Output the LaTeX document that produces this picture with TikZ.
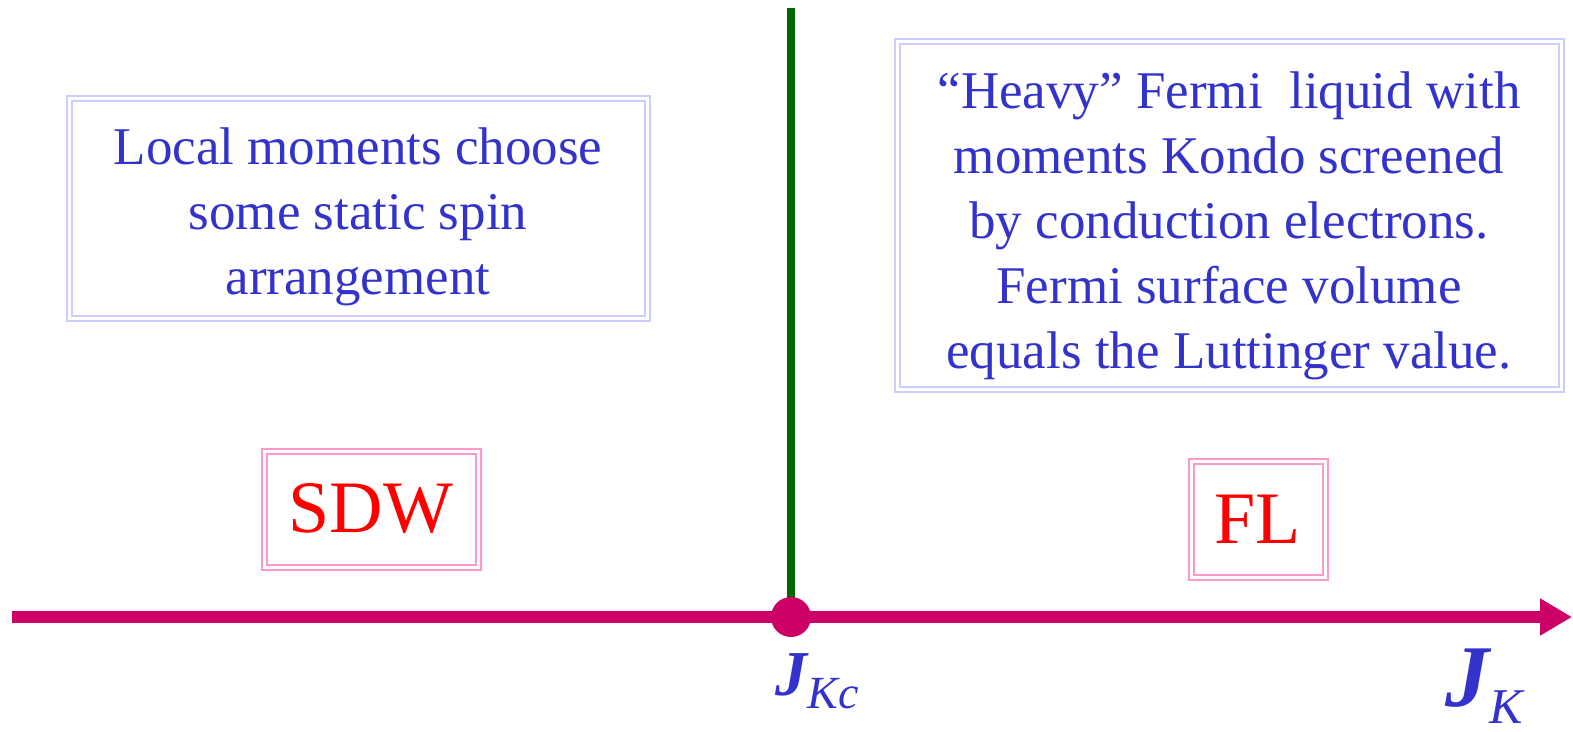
\documentclass[tikz,border=0pt]{standalone}
\usepackage{fontspec}
\setmainfont{Liberation Serif}
\usetikzlibrary{arrows.meta}
\definecolor{axisCol}{RGB}{204,0,102}
\definecolor{boundCol}{RGB}{0,102,0}
\definecolor{textCol}{RGB}{51,51,204}
\definecolor{infoCol}{RGB}{204,204,255}
\definecolor{phaseCol}{RGB}{255,153,204}
\newcommand\axisY{617}
\newcommand\critX{791}
\newcommand\boxText{\fontsize{26.5}{32.5}\selectfont}
\newcommand\phaseText{\fontsize{37}{40}\selectfont}
% coupling label: big bold J with a lowered italic subscript
\newcommand{\coupling}[4]{{\fontsize{#1}{#1}\selectfont\bfseries\itshape J}\raisebox{-#4}{\fontsize{#2}{#2}\selectfont\itshape #3}}

\begin{document}
\begin{tikzpicture}[x=0.5pt, y=-0.5pt,
    infobox/.style={draw=infoCol, line width=1pt, double=white, double distance=1.5pt, inner sep=0pt},
    infotext/.style={text=textCol, align=center, font=\boxText, inner sep=0pt},
    phasebox/.style={draw=phaseCol, line width=1pt, double=white, double distance=1.5pt,
        text=red, font=\phaseText, inner sep=0pt}]
        \useasboundingbox (0,0) rectangle (1573,732);

        % axis and critical point
        \coordinate (axstart) at (12,\axisY);
        \coordinate (axend) at (1572,\axisY);
        \coordinate (kc) at (\critX,\axisY);
        \coordinate (bndtop) at (\critX,8);

        \draw[boundCol, line width=4pt] (kc) -- (bndtop);
        \draw[axisCol, line width=6pt, -{Triangle[length=16pt, width=17.5pt]}] (axstart) -- (axend);
        \node[circle, fill=axisCol, minimum size=20pt, inner sep=0pt] (dot) at (kc) {};

        \node[text=textCol, anchor=base west, inner sep=0pt] (jkc) at (775,695) {\coupling{32}{23}{Kc}{6.5pt}};
        \node[text=textCol, anchor=base west, inner sep=0pt] (jk) at (1445,706) {\coupling{44}{25}{K}{8.5pt}};

        % phase descriptions
        \node[infobox, minimum width=289pt, minimum height=110pt] (sdwinfo) at (358,209) {};
        \node[infotext] (sdwtext) at ([yshift=-4pt]sdwinfo.center) {Local moments choose\\some static spin\\arrangement};
        \node[infobox, minimum width=332pt, minimum height=174pt] (flinfo) at (1229,216) {};
        \node[infotext] (fltext) at ([yshift=-5pt]flinfo.center) {``Heavy'' Fermi \ liquid with\\moments Kondo screened\\by conduction electrons.\\Fermi surface volume\\equals the Luttinger value.};

        % phase labels
        \node[phasebox, minimum width=107pt, minimum height=58pt] (sdw) at (371,509) {SDW};
        \node[phasebox, minimum width=67pt, minimum height=58pt] (fl) at (1258,519) {FL};

    \end{tikzpicture}
\end{document}
